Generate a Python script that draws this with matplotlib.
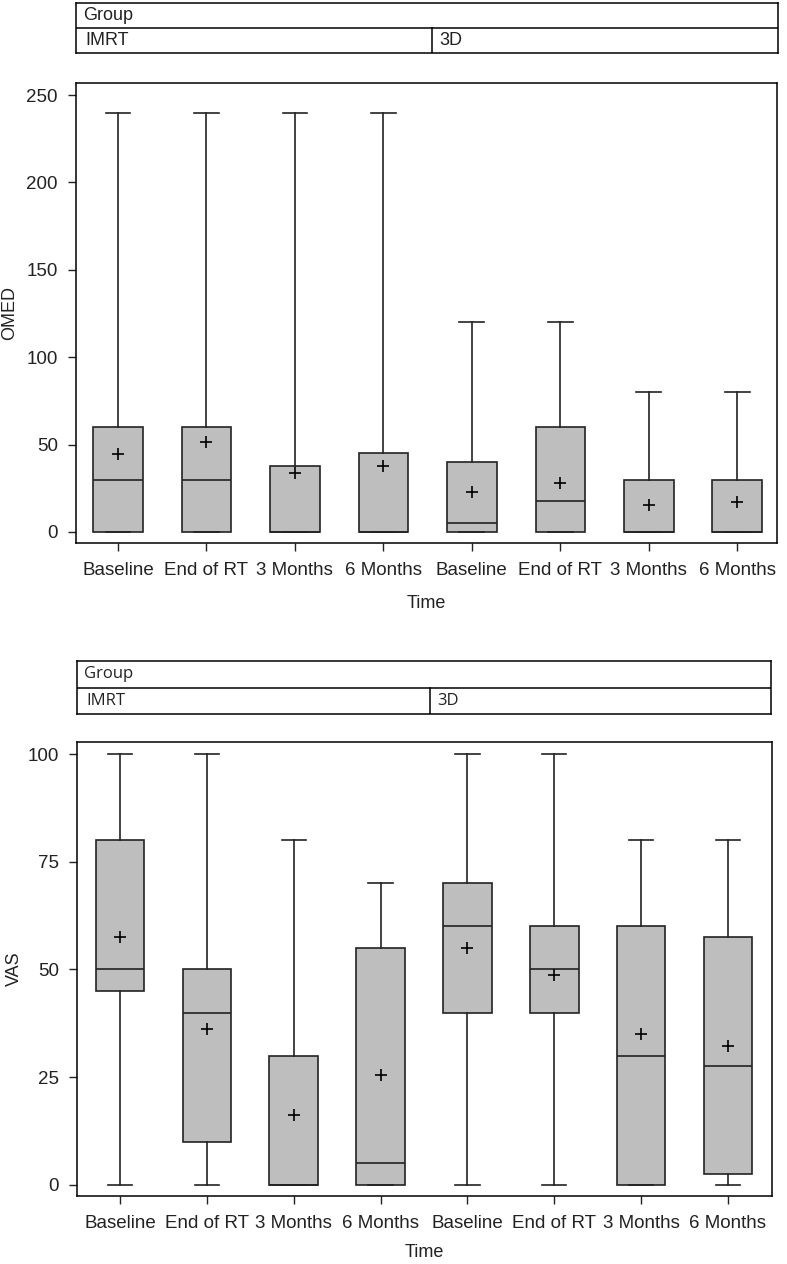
import matplotlib
matplotlib.use("Agg")
import matplotlib.pyplot as plt

plt.rcParams['font.family'] = ['Liberation Sans', 'DejaVu Sans']

# --- Data ---
times = ["Baseline", "End of RT", "3 Months", "6 Months",
         "Baseline", "End of RT", "3 Months", "6 Months"]
groups = ["IMRT", "3D"]

omed_min = [0, 0, 0, 0, 0, 0, 0, 0]
omed_q1 = [0, 0, 0, 0, 0, 0, 0, 0]
omed_med = [30, 30, 0, 0, 5, 17.5, 0, 0]
omed_q3 = [60, 60, 37.5, 45, 40, 60, 30, 30]
omed_max = [240, 240, 240, 240, 120, 120, 80, 80]
omed_mean = [44.6, 51.5, 33.6, 37.8, 22.7, 27.8, 15.2, 17]

vas_min = [0, 0, 0, 0, 0, 0, 0, 0]
vas_q1 = [45, 10, 0, 0, 40, 40, 0, 2.5]
vas_med = [50, 40, 0, 5, 60, 50, 30, 27.5]
vas_q3 = [80, 50, 30, 55, 70, 60, 60, 57.5]
vas_max = [100, 100, 80, 70, 100, 100, 80, 80]
vas_mean = [57.6, 36.1, 16.3, 25.4, 55, 48.8, 35.1, 32.2]

W, H = 787, 1264
BOX_FILL = '#bebebe'
INK = '#222222'


def rect(x0, y0, x1, y1):
    return [x0 / W, 1 - y1 / H, (x1 - x0) / W, (y1 - y0) / H]


def header(box, split_x, font, size):
    ax = fig.add_axes(rect(*box))
    ax.set_xlim(0, 1)
    ax.set_ylim(0, 1)
    ax.set_xticks([])
    ax.set_yticks([])
    for s in ax.spines.values():
        s.set_linewidth(1.1)
    ax.axhline(0.5, color='black', lw=1.1)
    fx = (split_x - box[0]) / (box[2] - box[0])
    ax.plot([fx, fx], [0, 0.5], color='black', lw=1.1)
    ax.text(0.01, 0.75, "Group", va='center', ha='left', fontsize=size, family=font, color=INK)
    ax.text(0.014, 0.25, groups[0], va='center', ha='left', fontsize=size, family=font, color=INK)
    ax.text(fx + 0.01, 0.25, groups[1], va='center', ha='left', fontsize=size, family=font, color=INK)


def boxpanel(box, lo, q1, med, q3, hi, mean, ylim, xlim, yticks, ylabel, ylab_x, xlab_y):
    ax = fig.add_axes(rect(*box))
    stats = []
    for i in range(len(times)):
        stats.append(dict(whislo=lo[i], q1=q1[i], med=med[i], q3=q3[i],
                          whishi=hi[i], mean=mean[i], fliers=[]))
    ax.bxp(stats, positions=range(len(times)), widths=0.56, patch_artist=True,
           showmeans=True, showfliers=False,
           boxprops=dict(facecolor=BOX_FILL, edgecolor=INK, lw=1.2),
           medianprops=dict(color=INK, lw=1.2),
           whiskerprops=dict(color=INK, lw=1.2),
           capprops=dict(color=INK, lw=1.2),
           capwidths=0.28,
           meanprops=dict(marker='+', markeredgecolor='black', markersize=8, markeredgewidth=1.2))
    ax.set_xlim(*xlim)
    ax.set_ylim(*ylim)
    ax.set_yticks(yticks)
    ax.set_xticks(range(len(times)))
    ax.set_xticklabels(times)
    ax.tick_params(axis='both', length=6, width=1, labelsize=13.5, colors=INK)
    ax.tick_params(axis='x', pad=8)
    ax.tick_params(axis='y', pad=7)
    for s in ax.spines.values():
        s.set_linewidth(1.1)
    ax.set_ylabel(ylabel, fontsize=13, color=INK)
    ax.yaxis.set_label_coords(ylab_x, 0.5)
    ax.set_xlabel("Time", fontsize=13, color=INK)
    ax.xaxis.set_label_coords(0.5, xlab_y)
    return ax


fig = plt.figure(figsize=(W / 100, H / 100), dpi=100)

# --- top panel: OMED ---
header((76, 3, 778, 53), 432, ['Liberation Sans', 'DejaVu Sans'], 13)
boxpanel((76, 83, 777, 543), omed_min, omed_q1, omed_med, omed_q3, omed_max, omed_mean,
         (-6.3, 256.9), (-0.475, 7.45), [0, 50, 100, 150, 200, 250], "OMED", -0.083, -0.112)

# --- bottom panel: VAS ---
header((77, 661, 771, 714), 430, ['Open Sans', 'DejaVu Sans'], 12)
boxpanel((77, 742, 772, 1196), vas_min, vas_q1, vas_med, vas_q3, vas_max, vas_mean,
         (-2.6, 102.8), (-0.495, 7.507), [0, 25, 50, 75, 100], "VAS", -0.078, -0.106)

fig.savefig("out.png", dpi=100)
